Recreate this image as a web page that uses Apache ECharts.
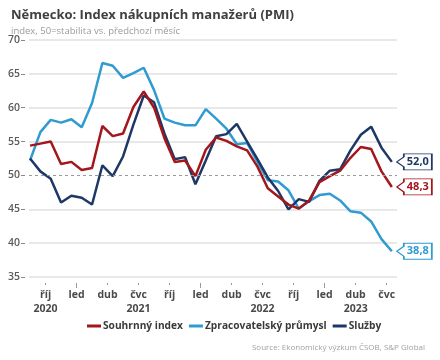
<!DOCTYPE html>
<html><head><meta charset="utf-8">
<script src="https://cdn.jsdelivr.net/npm/echarts@6/dist/echarts.min.js"></script>
<style>html,body{margin:0;padding:0;background:#fff}#c{width:440px;height:360px}</style>
</head><body><div id="c"></div>
<script>
const months = ["2020-08","2020-09","2020-10","2020-11","2020-12",
"2021-01","2021-02","2021-03","2021-04","2021-05","2021-06","2021-07","2021-08","2021-09","2021-10","2021-11","2021-12",
"2022-01","2022-02","2022-03","2022-04","2022-05","2022-06","2022-07","2022-08","2022-09","2022-10","2022-11","2022-12",
"2023-01","2023-02","2023-03","2023-04","2023-05","2023-06","2023-07"];
const composite = [54.4,54.7,55.0,51.7,52.0,50.8,51.1,57.3,55.8,56.2,60.1,62.4,60.0,55.5,52.0,52.2,49.9,
53.8,55.6,55.1,54.3,53.7,51.3,48.1,46.9,45.7,45.1,46.3,49.0,49.9,50.7,52.6,54.2,53.9,50.6,48.3];
const manufacturing = [52.2,56.4,58.2,57.8,58.3,57.1,60.7,66.6,66.2,64.4,65.1,65.9,62.6,58.4,57.8,57.4,57.4,
59.8,58.4,56.9,54.6,54.8,52.0,49.3,49.1,47.8,45.1,46.2,47.1,47.3,46.3,44.7,44.5,43.2,40.6,38.8];
const services = [52.5,50.6,49.5,46.0,47.0,46.7,45.7,51.5,49.9,52.8,57.5,61.8,60.8,56.2,52.4,52.7,48.7,
52.2,55.8,56.1,57.6,55.0,52.4,49.7,47.7,45.0,46.5,46.1,49.2,50.7,50.9,53.7,56.0,57.2,54.1,52.0];
const seriesNames = ["Souhrnný index","Zpracovatelský průmysl","Služby"];
const colors = ["#a3161b","#2f9bd1","#1d3866"];
const tickMonths = ["2020-10","2021-01","2021-04","2021-07","2021-10","2022-01","2022-04","2022-07","2022-10","2023-01","2023-04","2023-07"];
const tickLabels = ["říj\n2020","led","dub","čvc\n2021","říj","led","dub","čvc\n2022","říj","led","dub\n2023","čvc"];
const yearTicks = ["2021-01","2022-01","2023-01"];

function mIdx(s){const [y,m]=s.split('-').map(Number);return (y-2020)*12+(m-1);}
const tickVals = tickMonths.map(mIdx);
const yearVals = yearTicks.map(mIdx);
const fontF = '"Open Sans","Noto Sans",sans-serif';

function mkSeries(name, vals, color, z){
  const data = vals.map((v,i)=>[mIdx(months[i])+0.5, v]);
  const last = data[data.length-1];
  return {
    name, type:'line', data, symbol:'none', z,
    lineStyle:{width:2.5,color}, itemStyle:{color},
    markPoint:{
      silent:true,
      symbol:'path://M0,8 L7,3 L7,0 L35,0 L35,16 L7,16 L7,13 Z',
      symbolKeepAspect:false,
      symbolSize:[35,16],
      symbolOffset:[22.5,0],
      itemStyle:{color:'#fff',borderColor:color,borderWidth:1.2},
      label:{show:true,position:'inside',offset:[3.5,0],color,fontFamily:fontF,fontWeight:'bold',fontSize:11,
        formatter:()=>last[1].toFixed(1).replace('.',',')},
      data:[{coord:last}]
    }
  };
}

const series = [
  mkSeries(seriesNames[0], composite, colors[0], 3),
  mkSeries(seriesNames[1], manufacturing, colors[1], 2),
  mkSeries(seriesNames[2], services, colors[2], 2)
];
series[0].markLine = {silent:true,symbol:'none',label:{show:false},
  lineStyle:{color:'#9a9a9a',type:[3,3],width:1},data:[{yAxis:50}]};

const chart = echarts.init(document.getElementById('c'), null, {renderer:'canvas'});
chart.setOption({
  animation:false,
  backgroundColor:'#fff',
  title:[
    {text:'Německo: Index nákupních manažerů (PMI)',left:6,top:4,
     textStyle:{fontFamily:fontF,fontSize:13,fontWeight:'bold',color:'#404040'}},
    {text:'index, 50=stabilita vs. předchozí měsíc',left:6,top:21,
     textStyle:{fontFamily:fontF,fontSize:9.5,fontWeight:'normal',color:'#9a9a9a'}},
    {text:'Source: Ekonomický výzkum ČSOB, S&P Global',right:10,top:339,
     textStyle:{fontFamily:fontF,fontSize:8,fontWeight:'normal',color:'#a0a0a0'}}
  ],
  legend:{left:82,top:316,itemWidth:14,itemHeight:3,itemGap:6,icon:'rect',
    textStyle:{fontFamily:fontF,fontSize:10.2,fontWeight:'bold',color:'#3a3a3a',padding:[0,0,0,-3]},
    data:seriesNames},
  grid:{left:29,right:43,top:40,bottom:83},
  xAxis:[{
    type:'value',min:7.4,max:43,offset:6,
    axisLine:{show:false},splitLine:{show:false},
    axisTick:{show:true,length:2,customValues:tickVals,lineStyle:{color:'#999'}},
    axisLabel:{customValues:tickVals,margin:5,fontFamily:fontF,fontSize:10.5,fontWeight:'bold',color:'#4a4a4a',lineHeight:14,
      formatter:(v)=>{const i=tickVals.indexOf(Math.round(v));return i>=0?tickLabels[i]:'';}}
  },{
    type:'value',min:7.4,max:43,offset:6,position:'bottom',
    axisLine:{show:false},splitLine:{show:false},
    axisTick:{show:true,length:5,customValues:yearVals,lineStyle:{color:'#999'}},
    axisLabel:{show:false}
  }],
  yAxis:{
    type:'value',min:35,max:70,interval:5,offset:4,
    axisLine:{show:false},
    axisTick:{show:true,length:4,lineStyle:{color:'#888'}},
    axisLabel:{margin:5,fontFamily:fontF,fontSize:10.5,fontWeight:600,color:'#5e5a55'},
    splitLine:{lineStyle:{width:1.5,color:['#e0e0e0','#e0e0e0','#e0e0e0','rgba(0,0,0,0)','#e0e0e0','#e0e0e0','#e0e0e0','#e0e0e0']}}
  },
  series
});
</script></body></html>
